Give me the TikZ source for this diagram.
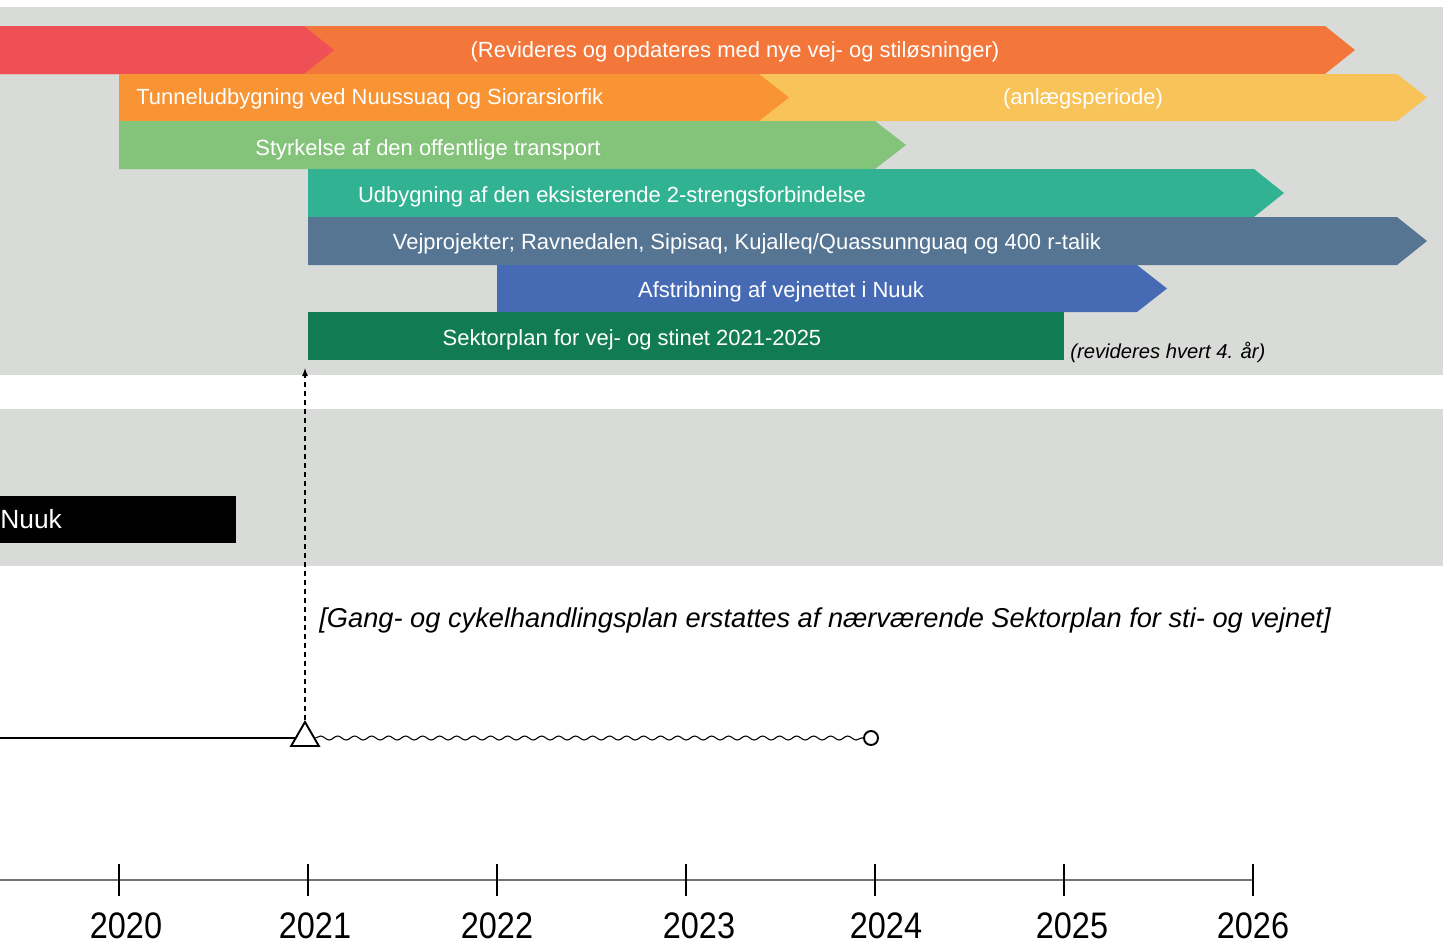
\documentclass[tikz,border=0pt]{standalone}
\usepackage{fontspec}
\setmainfont{Liberation Sans}
\newfontfamily\narrowfont[FakeStretch=0.88]{Liberation Sans}
\usetikzlibrary{arrows.meta,shapes.geometric,decorations.pathmorphing}
\definecolor{bandgray}{HTML}{D9DBD8}
\definecolor{revred}{HTML}{EF5056}
\definecolor{revorange}{HTML}{F3773B}
\definecolor{tunorange}{HTML}{F89433}
\definecolor{tunyellow}{HTML}{F8C358}
\definecolor{lightgreen}{HTML}{84C37A}
\definecolor{teal}{HTML}{31B393}
\definecolor{slate}{HTML}{567592}
\definecolor{stripeblue}{HTML}{466BB4}
\definecolor{darkgreen}{HTML}{117C54}

\begin{document}
\begin{tikzpicture}[x=0.2mm,y=-0.2mm,
  bartext/.style={text=white,font=\fontsize{12.5}{15}\selectfont,inner sep=0pt,anchor=base},
  notetext/.style={font=\itshape\fontsize{15.5}{18}\selectfont,inner sep=0pt,anchor=base west},
  yearlabel/.style={font=\narrowfont\fontsize{21}{24}\selectfont,inner sep=0pt,anchor=base}]
\useasboundingbox (0,0) rectangle (1443,943);
% grey bands
\fill [bandgray] (0,7) rectangle (1443,375);
\fill [bandgray] (0,409) rectangle (1443,566);
% bars
\fill [revorange] (0,26) -- (1325,26) -- (1355,50) -- (1325,74) -- (0,74) -- cycle;
\fill [revred] (0,26) -- (304,26) -- (334,50) -- (304,74) -- (0,74) -- cycle;
\fill [tunyellow] (700,74) -- (1397,74) -- (1427,97.5) -- (1397,121) -- (700,121) -- cycle;
\fill [tunorange] (119,74) -- (759,74) -- (789,97.5) -- (759,121) -- (119,121) -- cycle;
\fill [lightgreen] (119,121) -- (875,121) -- (906,145) -- (875,169) -- (119,169) -- cycle;
\fill [teal] (308,169) -- (1254,169) -- (1284,193) -- (1254,217) -- (308,217) -- cycle;
\fill [slate] (308,217) -- (1397,217) -- (1427,241) -- (1397,265) -- (308,265) -- cycle;
\fill [stripeblue] (497,265) -- (1137,265) -- (1167,288.5) -- (1137,312) -- (497,312) -- cycle;
\fill [darkgreen] (308,312) rectangle (1064,360);
% bar texts
\node [bartext] (revtext) at (735,57) {(Revideres og opdateres med nye vej- og stiløsninger)};
\node [bartext,anchor=base west] (tuntext) at (136,104) {Tunneludbygning ved Nuussuaq og Siorarsiorfik};
\node [bartext] (anltext) at (1083,104) {(anlægsperiode)};
\node [bartext] (transtext) at (428,155) {Styrkelse af den offentlige transport};
\node [bartext] (udbtext) at (612,202) {Udbygning af den eksisterende 2-strengsforbindelse};
\node [bartext] (vejtext) at (747,249) {Vejprojekter; Ravnedalen, Sipisaq, Kujalleq/Quassunnguaq og 400 r-talik};
\node [bartext] (afstext) at (781,297) {Afstribning af vejnettet i Nuuk};
\node [bartext] (sektext) at (632,345) {Sektorplan for vej- og stinet 2021-2025};
\node [notetext,font=\itshape\fontsize{11.5}{14}\selectfont] (revnote) at (1070,358) {(revideres hvert 4. år)};
% Nuuk box
\fill [black] (0,496) rectangle (236,543);
\node [text=white,font=\fontsize{15}{18}\selectfont,inner sep=0pt,anchor=base west] (nuuk) at (0,528) {Nuuk};
\node [notetext] (gangnote) at (319,627) {[Gang- og cykelhandlingsplan erstattes af nærværende Sektorplan for sti- og vejnet]};
% time line
\node [regular polygon,regular polygon sides=3,draw,line width=1.1pt,fill=white,minimum size=6.4mm,inner sep=0pt] (start) at (305,738) {};
\node [circle,draw,line width=1.1pt,fill=white,minimum size=2.8mm,inner sep=0pt] (end) at (871,738) {};
\coordinate (lstart) at (0,738);
\coordinate (top) at (305,368);
\draw [line width=0.85pt] (lstart) -- (start.west |- lstart);
\draw [line width=0.6pt,decorate,decoration={snake,segment length=3.4mm,amplitude=0.4mm}] (start.east |- lstart) -- (end.west);
\draw [line width=0.6pt,dash pattern=on 1mm off 0.8mm,-{Latex[length=1.6mm,width=1.2mm]}] (start.north) -- (top);
% axis
\coordinate (axstart) at (0,880);
\coordinate (axend) at (1253,880);
\draw [gray!90!black,line width=1.1pt] (axstart) -- (axend);
\foreach \i in {0,...,6}
  \draw [line width=0.6pt] (119+189*\i,864) -- (119+189*\i,896);
\foreach \yr/\lx in {2020/126,2021/315,2022/497,2023/699,2024/886,2025/1072,2026/1253}
  \node [yearlabel] (y\yr) at (\lx,938) {\yr};
\end{tikzpicture}
\end{document}
